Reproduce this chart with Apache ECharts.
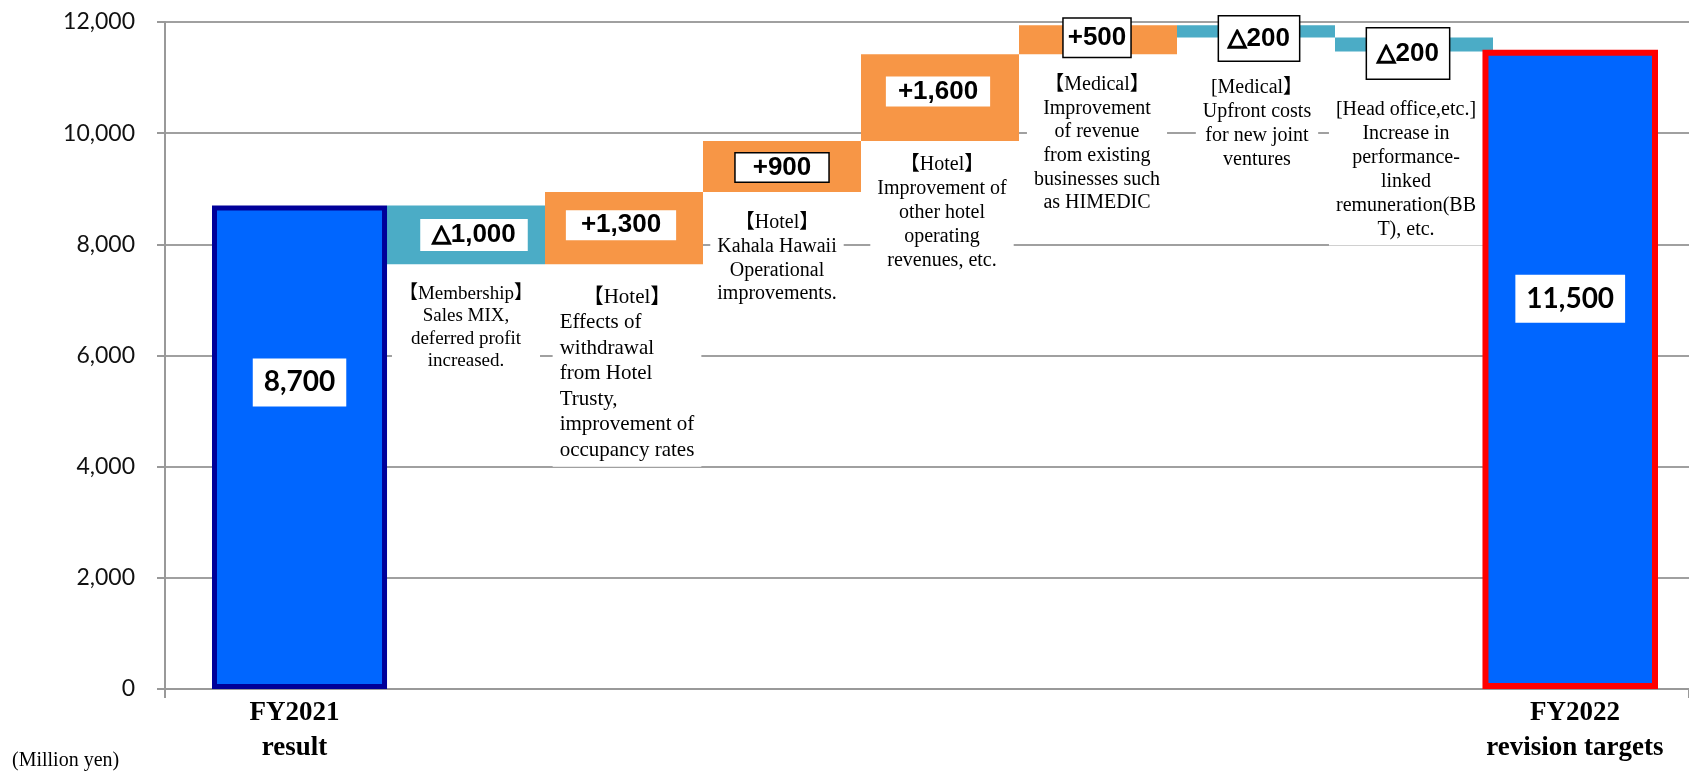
<!DOCTYPE html>
<html><head><meta charset="utf-8">
<script src="https://cdn.jsdelivr.net/npm/echarts@6/dist/echarts.min.js"></script>
<style>html,body{margin:0;padding:0;background:#fff}#c{width:1689px;height:771px}</style>
</head><body><div id="c"></div>
<script>
// ---- data ----
const totalCategories = ['FY2021\nresult', 'FY2022\nrevision targets'];
const startValue = 8700;
const endValue = 11500;
const totalLabels = ['8,700', '11,500'];
const deltas = [-1060, 1300, 920, 1560, 520, -220, -250];
const deltaLabels = ['△1,000', '+1,300', '+900', '+1,600', '+500', '△200', '△200'];
const descriptions = [
  '【Membership】\nSales MIX,\ndeferred profit\nincreased.',
  '【Hotel】\nEffects of\nwithdrawal\nfrom Hotel\nTrusty,\nimprovement of\noccupancy rates',
  '【Hotel】\nKahala Hawaii\nOperational\nimprovements.',
  '【Hotel】\nImprovement of\nother hotel\noperating\nrevenues, etc.',
  '【Medical】\nImprovement\nof revenue\nfrom existing\nbusinesses such\nas HIMEDIC',
  '[Medical】\nUpfront costs\nfor new joint\nventures',
  '[Head office,etc.]\nIncrease in\nperformance-\nlinked\nremuneration(BB\nT), etc.'
];
const yMin = 0, yMax = 12000, yInterval = 2000;
const unitText = '(Million yen)';

// ---- layout / style tables (not data) ----
const descGap = [16, 18, 17, 10, 17, 36, 44];
const descShiftX = [0, 3, -5, 2, -1, 1, -8];
const descFont = [19, 21, 20, 20, 20, 20, 20];
const descLine = [22.5, 25.5, 23.7, 24, 23.6, 24, 24];
const descMixed = [false, true, false, false, false, false, false];
const valShift = [[8, 0], [-3, -3], [0, 1], [-2, -6], [-1, -2], [3, 7], [-6, 9]];
const valPad = [[2, 12], [1, 15], [0, 17], [1, 12], [5, 4], [8, 9], [11, 10]];
const valBorder = [false, false, true, false, true, true, true];
const totalGap = [153, 225];

// ---- build waterfall ----
let level = startValue;
const base = [], inc = [], dec = [];
deltas.forEach(d => {
  const next = level + d;
  base.push(Math.min(level, next));
  inc.push(d > 0 ? d : '-');
  dec.push(d < 0 ? -d : '-');
  level = next;
});
const midCats = deltas.map((_, i) => 'd' + i);
const totCats = [totalCategories[0]].concat(midCats.map(() => ''), [totalCategories[1]]);

function descFormatter(i) {
  const lines = descriptions[i].split('\n');
  return lines.map((ln, j) => (j === 0 || !descMixed[i]) ? '{c|' + ln + '}' : '{l|' + ln + '}').join('\n');
}
function valFormatter(i) {
  const s = deltaLabels[i];
  if (s.charAt(0) === '△') return '{t|△}{n|' + s.slice(1) + '}';
  return '{n|' + s + '}';
}
const serif = '"Liberation Serif", "Times New Roman", "Noto Sans CJK JP", serif';
const baseData = base.map((v, i) => ({
  value: v,
  label: {
    show: true, position: 'insideTop', distance: descGap[i], offset: [descShiftX[i], 0],
    formatter: () => descFormatter(i),
    backgroundColor: '#fff', padding: [2, 7, 4, 7],
    rich: {
      c: { align: 'center', fontFamily: serif, fontSize: descFont[i], lineHeight: descLine[i], color: '#000' },
      l: { align: 'left', fontFamily: serif, fontSize: descFont[i], lineHeight: descLine[i], color: '#000' }
    }
  }
}));
function valItem(v, i) {
  if (v === '-') return '-';
  return {
    value: v,
    label: {
      show: true, position: 'inside', offset: valShift[i],
      formatter: () => valFormatter(i),
      backgroundColor: '#fff', padding: valPad[i],
      borderColor: valBorder[i] ? '#000' : 'transparent', borderWidth: valBorder[i] ? 1.5 : 0,
      rich: {
        n: { fontFamily: '"Liberation Sans Narrow", "Arial Narrow", "Liberation Sans", Arial, sans-serif',
             fontWeight: 'bold', fontSize: 26, lineHeight: 28, color: '#000' },
        t: { fontFamily: '"DejaVu Sans", "Noto Sans CJK JP", sans-serif', fontWeight: 'bold',
             fontSize: 24, lineHeight: 28, color: '#000', textBorderColor: '#000', textBorderWidth: 1.6 }
      }
    }
  };
}
const totalsData = totCats.map((c, i) => {
  if (i === 0) return { value: startValue, itemStyle: { color: '#0066FF', borderColor: '#000099', borderWidth: 5 },
    label: { show: true, position: 'insideTop', distance: totalGap[0], formatter: totalLabels[0] } };
  if (i === totCats.length - 1) return { value: endValue, itemStyle: { color: '#0066FF', borderColor: '#FF0000', borderWidth: 6 },
    label: { show: true, position: 'insideTop', distance: totalGap[1], formatter: totalLabels[1] } };
  return '-';
});

const gTop = 22, gBottom = 82;
const option = {
  animation: false,
  backgroundColor: '#fff',
  grid: [
    { left: 165, right: 0, top: gTop, bottom: gBottom },
    { left: 214.5, right: 34, top: gTop, bottom: gBottom },
    { left: 387, right: 196, top: gTop, bottom: gBottom }
  ],
  xAxis: [
    { gridIndex: 0, type: 'category', data: [''], axisLine: { show: true, lineStyle: { color: '#999', width: 2 } },
      axisTick: { show: true, length: 9, lineStyle: { color: '#999', width: 2 } }, axisLabel: { show: false } },
    { gridIndex: 1, type: 'category', data: totCats, axisLine: { show: false }, axisTick: { show: false },
      axisLabel: { interval: 0, margin: 7, fontFamily: serif, fontWeight: 'bold', fontSize: 27, lineHeight: 35, color: '#000' } },
    { gridIndex: 2, type: 'category', data: midCats, show: false }
  ],
  yAxis: [
    { gridIndex: 0, type: 'value', min: yMin, max: yMax, interval: yInterval,
      axisLine: { show: true, lineStyle: { color: '#999', width: 2 } },
      axisTick: { show: true, length: 8, lineStyle: { color: '#999', width: 2 } },
      splitLine: { show: true, lineStyle: { color: '#a0a0a0', width: 2 } },
      axisLabel: { margin: 30, fontFamily: 'Lato, "Open Sans", sans-serif', fontSize: 23, color: '#111',
        formatter: v => v.toLocaleString('en-US') } },
    { gridIndex: 1, type: 'value', min: yMin, max: yMax, interval: yInterval, show: false, splitLine: { show: false } },
    { gridIndex: 2, type: 'value', min: yMin, max: yMax, interval: yInterval, show: false, splitLine: { show: false } }
  ],
  series: [
    { type: 'bar', name: 'base', xAxisIndex: 2, yAxisIndex: 2, stack: 'w', barCategoryGap: '0%',
      itemStyle: { color: 'transparent' }, data: baseData, z: 3 },
    { type: 'bar', name: 'increase', xAxisIndex: 2, yAxisIndex: 2, stack: 'w', barCategoryGap: '0%',
      itemStyle: { color: '#F79646' }, data: inc.map(valItem), z: 3 },
    { type: 'bar', name: 'decrease', xAxisIndex: 2, yAxisIndex: 2, stack: 'w', barCategoryGap: '0%',
      itemStyle: { color: '#4BACC6' }, data: dec.map(valItem), z: 3 },
    { type: 'bar', name: 'total', xAxisIndex: 1, yAxisIndex: 1, barWidth: 185, z: 5,
      label: { fontFamily: 'Lato, "Open Sans", sans-serif', fontWeight: 'bold', fontSize: 28, lineHeight: 30,
        color: '#000', backgroundColor: '#fff', padding: [9, 11] },
      data: totalsData }
  ],
  graphic: [
    { type: 'text', left: 12, top: 751, style: { text: unitText, font: '20px "Liberation Serif", serif', fill: '#000' } }
  ]
};
const chart = echarts.init(document.getElementById('c'), null, { renderer: 'canvas' });
chart.setOption(option);
</script></body></html>
